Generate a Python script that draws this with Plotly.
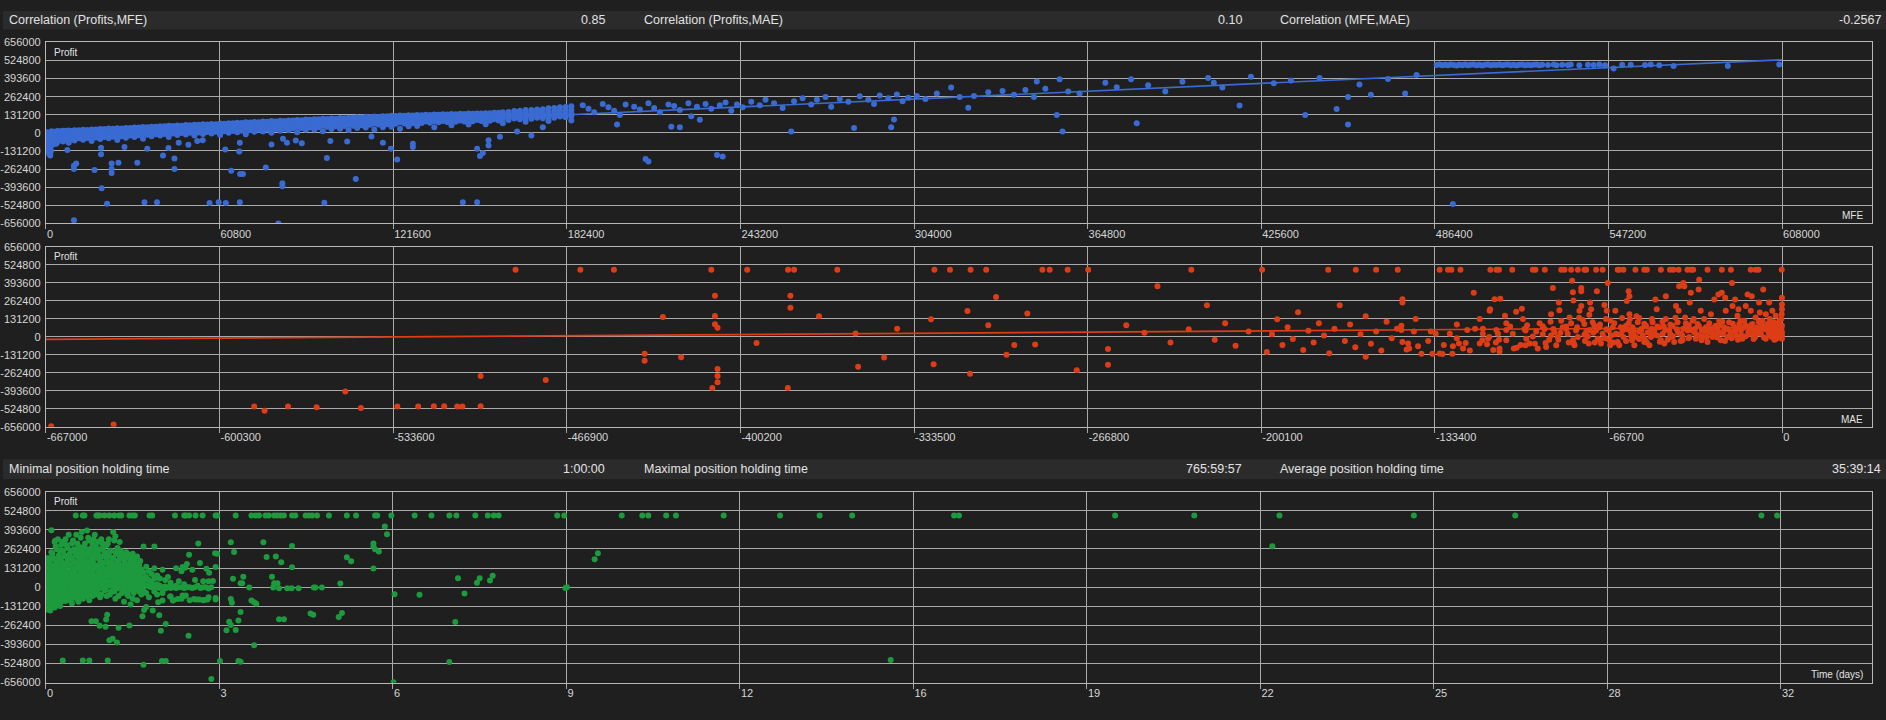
import plotly.graph_objects as go

W, H = 1886, 720

# ---------------- header texts ----------------
header1_labels = ["Correlation (Profits,MFE)", "Correlation (Profits,MAE)", "Correlation (MFE,MAE)"]
header1_values = ["0.85", "0.10", "-0.2567"]
header2_labels = ["Minimal position holding time", "Maximal position holding time", "Average position holding time"]
header2_values = ["1:00:00", "765:59:57", "35:39:14"]

# ---------------- axis ticks ----------------
profit_ticks = [656000, 524800, 393600, 262400, 131200, 0, -131200, -262400, -393600, -524800, -656000]
profit_ticktext = ["656000", "524800", "393600", "262400", "131200", "0", "-131200", "-262400", "-393600", "-524800", "-656000"]
mfe_ticks = [0, 60800, 121600, 182400, 243200, 304000, 364800, 425600, 486400, 547200, 608000]
mae_ticks = [-667000, -600300, -533600, -466900, -400200, -333500, -266800, -200100, -133400, -66700, 0]
time_ticks = [0, 3.2, 6.4, 9.6, 12.8, 16, 19.2, 22.4, 25.6, 28.8, 32]
time_ticktext = ["0", "3", "6", "9", "12", "16", "19", "22", "25", "28", "32"]

# ---------------- Panel 1: Profit vs MFE (thousands) ----------------
mfe_strip = [(0.5,-5),(0.5,-20),(0.8,-35),(0.6,-50),(0.9,-65),(0.7,-80),(1.0,-95),(0.8,-110),(1.2,-125),
             (1.0,-140),(1.2,-155),(1.5,-165),(1.5,-150),(0.4,5),(1.6,-100),(2.0,-60),(1.8,-130),(0.3,-15),(2.5,-85)]
mfe_band = [
    (2,[12,-5,-25,-48,-70]),(4,[14,-2,-20,-42,-66]),(6,[16,0,-18,-38,-62]),(8,[17,3,-15,-35,-72]),
    (10,[19,5,-12,-30,-55]),(13,[22,8,-8,-28,-50]),(16,[25,10,-5,-24,-60]),(19,[28,12,-2,-20,-45]),
    (22,[31,15,0,-18,-40]),(25,[33,18,3,-15,-52]),(28,[36,20,6,-12,-35]),(31,[39,24,8,-8,-30]),
    (34,[42,27,12,-5,-42]),(37,[45,30,14,-2,-25]),(40,[48,33,18,2,-20]),(43,[51,36,20,4,-30]),
    (46,[54,39,23,8,-15]),(49,[56,42,26,10,-12]),(52,[59,45,29,12,-20]),(55,[62,48,32,15,-8]),
    (58,[65,50,34,18,-5]),(61,[68,53,37,20,-15]),(64,[70,56,40,24,0]),(67,[73,58,43,26,5]),
    (70,[76,61,46,28,-10]),(73,[79,64,48,31,8]),(76,[82,67,51,34,10]),(79,[85,70,54,36,0]),
    (82,[88,72,57,39,15]),(85,[90,75,60,42,18]),(88,[93,78,62,44,5]),(91,[96,80,65,47,22]),
    (94,[99,83,68,50,25]),(97,[102,86,70,52,12]),(100,[104,89,73,55,28]),(103,[107,91,76,58,30]),
    (106,[110,94,78,60,20]),(109,[113,97,81,63,35]),(112,[116,100,84,66,38]),(115,[118,102,86,68,25]),
    (118,[121,105,89,71,40]),(121,[124,108,92,74,45]),(124,[126,110,94,76,30]),(127,[128,112,96,78,48]),
    (130,[130,114,98,80,50]),(133,[131,116,100,82]),(136,[133,118,102,84,40]),(139,[135,120,104,86]),
    (142,[136,122,106,88,55]),(145,[138,124,108,90]),(148,[140,126,110,92,60]),(151,[141,128,112,94]),
    (154,[143,130,114,96,62]),(157,[145,132,116,98]),(160,[150,134,118,100,70]),(164,[158,140,122,104]),
    (168,[165,145,126,108,80]),(172,[170,150,130,110]),(176,[178,155,134,114,85]),(180,[185,160,138,118]),
    (184,[192,165,142,122,90]),
]
mfe_band_b = [
    (3,[8,-12,-35,-58]),(5,[12,-8,-30,-52]),(7,[15,-6,-28,-50]),(9,[13,-4,-22,-45]),(11.5,[18,0,-20,-40]),
    (14.5,[21,3,-18,-38]),(17.5,[24,6,-14,-34]),(20.5,[27,8,-10,-30]),(23.5,[30,12,-8,-28]),(26.5,[32,14,-4,-24]),
    (29.5,[35,17,0,-20]),(32.5,[38,20,2,-18]),(35.5,[41,23,5,-14]),(38.5,[44,26,8,-10]),(41.5,[47,29,11,-8]),
    (44.5,[50,32,14,-5]),(47.5,[52,34,16,-2]),(50.5,[55,37,19,0]),(53.5,[58,40,22,3]),(56.5,[61,43,25,6]),
    (59.5,[63,45,27,8]),(62.5,[66,48,30,11]),(65.5,[69,51,33,14]),(68.5,[72,54,36,16]),(71.5,[75,57,39,19]),
    (74.5,[77,59,41,22]),(77.5,[80,62,44,25]),(80.5,[83,65,47,28]),(83.5,[86,68,50,30]),(86.5,[89,71,53,33]),
    (89.5,[92,74,56,36]),(92.5,[95,77,59,38]),(95.5,[98,80,62,41]),(98.5,[100,82,64,44]),(101.5,[103,85,67,47]),
    (104.5,[106,88,70,50]),(107.5,[109,91,73,52]),(110.5,[112,94,76,55]),(113.5,[115,97,79,58]),
    (116.5,[117,99,81,60]),(119.5,[120,102,84,63]),(122.5,[122,104,86,66]),(125.5,[124,106,88,68]),
    (128.5,[126,108,90,70]),(131.5,[127,110,92,72]),(134.5,[129,112,94,74]),(137.5,[131,114,96,76]),
    (140.5,[133,116,98,78]),(143.5,[134,118,100,80]),(146.5,[136,120,102,82]),(149.5,[138,122,104,84]),
    (152.5,[140,124,106,86]),(155.5,[142,126,108,88]),(158.5,[146,128,110,90]),(162,[152,132,114,94]),
    (166,[160,138,118,98]),(170,[166,144,122,102]),(174,[172,148,126,106]),(178,[180,152,130,110]),
    (182,[188,158,134,114]),
]
mfe_mid = [(188,200),(190,175),(192,150),(195,210),(197,185),(199,160),(201,130),(203,205),(206,190),(208,170),
           (211,215),(213,180),(215,150),(218,205),(220,195),(222,165),(225,215),(226,120),(228,190),(231,210),
           (233,175),(236,200),(238,220),(240,160),(242,205),(244,185),(247,225),(250,200),(252,240),(255,215),
           (258,180),(262,230),(265,250),(268,205),(270,240),(273,260),(275,190),(278,245),(281,225),(285,265),
           (288,240),(290,210),(292,270),(295,250),(298,278),(300,230),(302,255),(305,268),(308,245),(312,285),
           (317,329),(320,260),(323,182),(325,268),(330,295),(335,303),(339,277),(343,310),(346,260),(350,320),
           (354,130),(358,300),(362,285),(347,372),(355,389),(371,363),(375,330),(380,389),(386,345),(392,300),
           (398,370),(407,398),(409,363),(412,329),(418,199),(422,406),(430,360),(436,380),(446,397),(452,173),
           (456,260),(460,350),(464,277),(470,390),(476,285),(480,420)]
mfe_outliers = [(3.6,-79),(7.5,-124),(9.8,-633),(9.8,-239),(9.8,-263),(10.6,-222),(17,-270),(19.5,-401),
                (21.4,-514),(19.3,-155),(19.3,-108),(23,-222),(23,-263),(23,-292),(25.4,-217),(32,-217),
                (27.5,-103),(34.5,-504),(38.9,-504),(35.5,-115),(41,-165),(42.9,-110),(45,-186),(45,-263),
                (46.5,-72),(49.9,-86),(53,-60),(54.9,-53),(57.3,-509),(60.5,-504),(63,-509),(62.8,-120),
                (64.9,-275),(67.7,-136),(67.9,-72),(67.9,-504),(68,-299),(69,-299),(77,-251),(79,-84),
                (81.4,-657),(82.8,-366),(82.8,-387),(83,-43),(84.4,-72),(87.5,-55),(89.6,-76),(97.5,-507),
                (98.4,-182),(99.6,-60),(108.5,-335),(105.5,-62),(114,-26),(118,-72),(120.8,-115),(123,-194),
                (128.5,-79),(128.5,-103),(146,-504),(151,-504),(151,-115),(152,-167),(155,-53),(155,-91),
                (159,-29),(153,-147),(165,10),(170,-20),(174,40),(211,-207),(210,-190),(219,44),(222,40),
                (237,-172),(235,-160),(229,95),(200,60),(261,9),(283,35),(297,96),(296,40),(356,9.5),
                (382,70),(441,130),(456,61),(492.7,-516)]
mfe_cap = [(487,492),(488,495),(489,490),(490,494),(491,491),(492,496),(493,492),(494,489),(495,494),(496,491),
           (497,495),(498,490),(499,493),(500,496),(501,491),(502,494),(503,489),(504,493),(505,496),(506,490),
           (507,494),(508,492),(509,495),(510,490),(511,493),(512,496),(513,491),(514,494),(515,489),(516,493),
           (517,496),(518,491),(519,494),(520,490),(521,493),(522,495),(523,491),(524,494),(526,492),(528,495),
           (529,490),(531,493),(533,492),(534,495),(537,491),(540,494),(542,492),(544,495),(546,490),(549,466),
           (552,494),(555,493),(560,492),(562,495),(565,491),(570,484),(589,484),(607,495)]
mfe_trend_x = [0, 608000]
mfe_trend_y = [-40000, 530000]

# ---------------- Panel 2: Profit vs MAE (thousands) ----------------
mae_left = [(-665,-652),(-641,-639),(-587,-508),(-583,-539),(-574,-508),(-563,-513),(-546,-518),(-532,-508),
            (-524,-508),(-518,-505),(-514,-505),(-509,-508),(-507,-507),(-500,-505),(-552,-398),(-500,-286),
            (-475,-314)]
mae_cap = [-486.6,-461.7,-448.8,-411.4,-397.6,-381.9,-379.6,-363,-325.7,-319.7,-311.8,-305.8,-284.2,-281.4,
           -274.5,-266.6,-227,-199.8,-174.4,-163.8,-156,-147.7,-131.6,-128.4,-127.1,-123.6,-112.1,-109.8,
           -108.8,-103.7,-95.8,-94.8,-91.2,-84.9,-83.6,-81.1,-78.5,-76,-75.3,-71.5,-69,-63.2,-62.6,-61,
           -56.4,-53,-52,-46.6,-43.1,-41.8,-39.8,-36.4,-35.1,-34.2,-28.7,-23.2,-19.7,-12.1,-10.2,-9.1,-0.2]
mae_cap_profit = 490
mae_mid = [(-410,300),(-410,153),(-410,93),(-409,67),(-409,-234),(-409,-286),(-409,-330),(-411,-373),
           (-430,145),(-437,-122),(-437,-174),(-423,-148),(-394,-45),(-381,300),(-381,213),(-382,-373),
           (-370,150),(-356,24),(-355,-217),(-345,-150),(-340,60),(-327,128),(-326,-200),(-313,188),
           (-312,-269),(-305,84),(-302,290),(-298,-131),(-295,-60),(-290,171),(-287,-55),(-271,-243),
           (-259,-203),(-259,-88),(-252,84),(-245,30),(-240,369),(-235,-40),(-228,55),(-221,231),(-218,-20),
           (-214,100),(-210,-65),(-205,40),(-198,-110),(-196,20),(-194,128),(-192,-60),(-190,70),(-188,-15),
           (-186,180),(-184,-95),(-182,45),(-180,-40),(-178,100),(-176,10),(-174,-120),(-172,60),(-170,230),
           (-168,-30),(-166,90),(-164,-75),(-162,20),(-160,150),(-158,-50),(-156,40),(-154,-100),(-152,110),
           (-150,-10),(-148,60),(-160,-145)]
mae_dense = [(-145.9,274),(-145.9,250),(-146.3,82),(-146.3,51),(-145.9,-37),(-143.7,-49),(-144.3,-92),(-143.3,-85),
             (-139.9,-68),(-140.8,130),(-138.6,-122),(-134.4,-122),(-131.6,-121),(-130.5,-124),(-126.7,-122),
             (-133.1,23),(-127.7,23),(-126.5,-68),(-124.2,-49),(-122.6,-85),(-121.6,-44),(-121,51),(-118.5,321),
             (-116.2,130),(-116.2,-49),(-115.2,-25),(-115,23),(-113.4,-54),(-113,-14),(-112.6,-1),(-112.4,190),
             (-112.2,202),(-110.5,274),(-108.3,278),(-109.8,51),(-109.2,23),(-108.8,-20),(-108.6,-85),(-108.6,-106),
             (-106.5,154),(-106,51),(-106,-25),(-103.5,23),(-103.1,-85),(-102.2,183),(-100,206),(-99.6,130),
             (-99,58),(-98.6,46),(-98.6,-61),(-98.3,-13),(-97,-49),(-95.8,3.5),(-93.9,-85),(-93.2,99),(-92,78),
             (-91.3,58),(-90.9,-44),(-90.7,-73),(-88.8,11),(-88.8,166),(-88.1,357),(-87.9,58),(-87.5,34),
             (-86.8,-61),(-86.2,-1),(-85.6,195),(-85.8,250),(-84.9,118),(-84.3,70),(-83,58),(-82.4,23),(-81.7,142),
             (-81.1,99),(-80.4,-25),(-79.8,-61),(-80.7,410),(-80.4,326),(-80.2,266),(-79.2,46),(-78.5,-1),
             (-77.9,190),(-77.2,226),(-77.2,357),(-77.2,333),(-76.6,123),(-76,94),(-75.3,35),(-74.7,3.5),
             (-74.3,-49),(-73.8,250),(-73.4,202),(-74.1,161),(-72.8,106),(-72.2,82),(-71.2,333),(-71.5,46),
             (-70.9,-13),(-70.2,70),(-69.6,-49),(-69,23),(-68.3,233),(-67.7,130),(-67.4,190),(-67,393),(-66.6,46),
             (-66.4,-25),(-66.1,-61),(-65.7,11),(-65.1,70),(-64.5,99),(-64.1,190),(-63.8,23),(-63.2,-37),
             (-62.6,-61),(-61.5,137),(-61.3,46),(-61,-1),(-60,82),(-59.7,261),(-59,333),(-58.7,297),(-58.7,166),
             (-58.5,130),(-58.1,34),(-57.7,-25),(-57.5,70),(-56.8,-61),(-56.2,-1),(-55.5,106),(-54.9,137),
             (-54.2,46),(-53.6,11),(-53,-37),(-52.3,82),(-51.7,34),(-51,-61),(-50.4,-1),(-49.8,106),(-49.1,46),
             (-48.7,273),(-48.2,202),(-47.2,70),(-46.6,-25),(-45.9,23),(-45.3,-49),(-44.7,130),(-44.7,297),
             (-43.4,46),(-42.8,-1),(-42.1,82),(-41.5,-37),(-40.8,226),(-40.2,106),(-39.8,190),(-39.6,369),
             (-38.9,23),(-38.3,-25),(-38,393),(-37.6,369),(-37.3,142),(-37,70),(-36.4,46),(-35.7,-1),(-35.5,250),
             (-35.1,321),(-34.4,118),(-33.8,34),(-33.2,-13),(-32.5,94),(-32.1,345),(-31.9,417),(-31.3,190),
             (-30.9,46),(-30.4,-1),(-30,130),(-29.3,70),(-28.7,-37),(-28,34),(-27.4,166),(-26.8,-1),(-26.1,273),
             (-25.5,82),(-24.8,46),(-24.5,309),(-24.2,118),(-23.6,-25),(-23.2,321),(-22.9,23),(-22.3,70),
             (-21.9,285),(-21.7,190),(-21,-1),(-20.4,106),(-19.7,34),(-19.3,393),(-19.1,226),(-18.5,70),
             (-18.1,273),(-17.8,11),(-17.2,154),(-16.8,202),(-16.5,94),(-15.9,46),(-15.3,-13),(-14.6,118),
             (-14,226),(-13.3,309),(-13,70),(-12.7,23),(-12.1,190),(-11.7,297),(-11.4,94),(-10.8,46),(-10.4,-1),
             (-10.2,142),(-9.5,70),(-8.9,250),(-8.6,178),(-8.2,23),(-7.6,118),(-7.3,345),(-6.9,58),(-6.3,-13),
             (-6.3,166),(-5.7,94),(-5.3,34),(-5,250),(-4.8,130),(-4.4,70),(-4,-1),(-3.8,190),(-3.5,46),(-3.1,106),
             (-2.8,23),(-2.5,154),(-2.3,-13),(-1.9,70),(-1.5,94),(-1.2,46),(-1,118),(-0.6,23),(-0.2,166),
             (-0.1,82),(-0.1,285),(-0.1,237),(-0.1,202),(-0.1,34),(-0.1,11),(-0.1,-13),(-0.3,60),(-0.4,130),
             (-1.4,10),(-2.1,30),(-3.3,80),(-4.6,15),(-6.1,60),(-7.8,85),(-9.2,40),(-11,10),(-12.4,55),
             (-14.2,85),(-15.8,15),(-17.5,60),(-19.4,-10),(-20.8,55),(-22.5,40),(-24,85),(-25.8,15),(-27.6,60),
             (-29.6,40),(-31.5,10),(-33.5,60),(-35.9,85),(-38.4,10),(-40.5,55),(-43,20),(-45.5,75),(-48,10),
             (-50.2,60),(-52.8,-15),(-55,40),(-57.2,10),(-59.5,55),(-62,20),(-64.8,-40),(-67.5,55),(-70,-20),
             (-72.6,30),(-75.8,-30),(-78.8,70),(-82,-40),(-85.2,30),(-89.5,-20),(-94.5,40),(-100.5,-60),
             (-104.5,75),(-111,-95),(-118,60),(-125,-10),(-136,-30),(-141.5,40)]
mae_dense_b = [(-1,5),(-2,40),(-3,-20),(-4,100),(-5,15),(-6,75),(-7,-5),(-8,55),(-9,110),(-10,25),(-11,-15),
               (-12,85),(-13,35),(-14,5),(-15,65),(-16,120),(-17,-20),(-18,45),(-19,95),(-20,15),(-21,60),
               (-22,-30),(-23,110),(-24,30),(-25,-5),(-26,70),(-27,40),(-28,100),(-29,0),(-30,55),(-31,-25),
               (-32,80),(-33,20),(-34,130),(-35,50),(-36,-10),(-37,100),(-38,60),(-39,-30),(-40,30),(-41,140),
               (-42,5),(-43,90),(-44,-20),(-45,50),(-46,110),(-47,-35),(-48,75),(-49,15),(-50,130),(-51,30),
               (-52,-40),(-53,95),(-54,60),(-55,-15),(-56,150),(-57,40),(-58,5),(-59,100),(-60,-30),(-62,70),
               (-64,20),(-66,120),(-68,-10),(-70,90),(-72,-40),(-74,50),(-76,15),(-78,140),(-80,-50),(-83,75),
               (-86,-20),(-89,110),(-92,20),(-95,-50),(-98,85),(-102,-80),(-106,100),(-110,-40),(-115,60),
               (-120,-100),(-125,90),(-130,-60),(-135,40)]
mae_trend_x = [-667000, 0]
mae_trend_y = [-18000, 70000]

# ---------------- Panel 3: Profit vs holding time (days, thousands) ----------------
time_strip = [(0.04,[200,180,160,140,120,100,80,60,40,20,0,-20,-40,-60,-80,-100,-120,-140,-155]),
              (0.08,[190,150,110,70,30,-10,-50,-90,-130,-160])]
time_cluster = [
    (0.12,[230,150,90,40,-10,-60,-110]),(0.16,[310,190,120,60,10,-40,-90,-140]),
    (0.20,[260,170,100,30,-20,-70,-120]),(0.24,[220,140,80,20,-30,-80]),
    (0.28,[290,200,130,60,0,-50,-100]),(0.32,[250,160,100,40,-15,-65]),
    (0.36,[330,210,140,70,10,-40,-95]),(0.40,[270,180,110,50,-5,-60]),
    (0.44,[230,150,90,30,-25,-75]),(0.48,[300,200,130,65,5,-45,-110]),
    (0.52,[260,170,100,40,-20,-70]),(0.56,[360,220,140,80,15,-35]),
    (0.60,[280,190,120,55,-5,-60,-100]),(0.64,[340,230,150,90,25,-30]),
    (0.68,[250,170,100,40,-20,-80]),(0.72,[300,210,130,70,10,-45]),
    (0.76,[390,260,180,110,50,-10]),(0.80,[320,220,150,80,20,-40,-90]),
    (0.84,[270,190,120,60,0]),(0.88,[330,240,160,90,30,-30]),
    (0.92,[280,200,130,70,10,-50]),(0.96,[310,230,150,85,25,-15]),
    (1.00,[260,180,110,50,-5,-70]),(1.04,[300,210,140,75,15]),
    (1.08,[240,170,100,40,-20]),(1.12,[290,200,120,60,5,-60]),
    (1.16,[330,220,150,80,20]),(1.20,[250,170,100,40,-30]),
    (1.24,[380,200,130,60,0]),(1.28,[350,240,160,90,30,-80]),
    (1.32,[270,180,110,50,-10]),(1.36,[310,210,140,70,10]),
    (1.40,[230,150,80,20,-40]),(1.44,[190,120,60,0,-100]),
    (1.48,[240,160,90,30,-30]),(1.52,[200,130,70,10,-60]),
    (1.56,[170,100,40,-20,-120]),(1.60,[230,140,80,20,-80]),
    (1.64,[180,110,50,-10]),(1.68,[210,130,60,0,-90]),
    (1.72,[150,90,30,-30]),(1.76,[120,60,10,-50]),
    (1.80,[280,100,40,-20]),(1.85,[140,70,15,-40]),
    (1.90,[110,50,5,-70]),(1.95,[90,30,0]),
    (2.00,[280,130,60,10,-30]),(2.05,[80,20,0,-50]),
    (2.10,[60,10,-5]),(2.15,[120,0,-40]),(2.20,[50,5,-10]),(2.25,[70,0]),
    (2.30,[30,-5,-65]),(2.35,[0,-90]),(2.40,[130,10,-5]),(2.45,[40,0]),
    (2.50,[110,0,-80]),(2.55,[20,-5,-60]),(2.60,[160,0]),(2.65,[0,-90]),
    (2.70,[120,-5]),(2.75,[50,0,-85]),(2.80,[10,-85]),(2.85,[-5]),
    (2.90,[0,40,-90]),(2.95,[0]),(3.00,[-10,-70,40]),(3.05,[0]),
]
time_cluster_b = [
    (0.06,[170,90,10,-70,-145]),(0.10,[240,120,50,-30,-100]),(0.14,[200,110,20,-80]),(0.18,[280,150,80,-5,-110]),
    (0.22,[330,190,60,-45]),(0.26,[250,120,40,-60,-130]),(0.30,[310,170,90,-30]),(0.34,[220,130,20,-90]),
    (0.38,[290,160,80,-20]),(0.42,[360,200,60,-50]),(0.46,[250,110,30,-95]),(0.50,[320,180,90,-30]),
    (0.54,[240,120,50,-55]),(0.58,[300,160,20,-85]),(0.62,[260,140,70,-40]),(0.66,[380,200,110,0]),
    (0.70,[280,150,60,-60]),(0.74,[230,120,30,-30]),(0.78,[340,170,80,-70]),(0.82,[250,130,40,-20]),
    (0.86,[300,180,100,-60]),(0.90,[360,220,50,-10]),(0.94,[260,140,60,-40]),(0.98,[200,110,30]),
    (1.02,[330,160,90,-50]),(1.06,[270,130,20]),(1.10,[220,90,40,-20]),(1.14,[300,170,80]),
    (1.18,[250,120,30,-50]),(1.22,[200,90,10]),(1.26,[320,150,60,-30]),(1.30,[230,120,20]),
    (1.34,[180,90,40,-60]),(1.38,[250,130,30]),(1.42,[210,100,-20]),(1.46,[160,60,10]),
    (1.50,[230,110,40,-50]),(1.54,[140,70,0]),(1.58,[200,90,30]),(1.62,[120,50,-40]),
    (1.66,[160,70,20]),(1.70,[110,40,-10]),(1.74,[180,80,0]),
]
time_cap = [0.55,0.68,0.71,0.93,0.96,0.99,1.08,1.17,1.26,1.35,1.39,1.54,1.60,1.64,1.91,1.96,2.38,2.55,
            2.58,2.64,2.76,2.89,3.13,3.16,3.50,3.79,3.87,3.93,4.05,4.11,4.21,4.27,4.33,4.39,4.54,4.60,4.79,
            4.85,4.91,5.00,5.22,5.55,5.72,6.07,6.11,6.37,6.80,7.11,7.44,7.57,7.92,8.15,8.26,8.35,9.43,9.56,
            10.62,11.0,11.11,11.44,11.62,12.5,13.54,14.27,14.87,16.75,16.84,19.72,21.18,22.75,25.23,27.1,
            31.64,31.93]
time_cap_profit = 492
time_other = [(0.10,391),(0.17,319),(0.31,-504),(0.68,-504),(0.80,-504),(1.14,-504),(1.80,-533),(2.14,-508),
              (2.21,-508),(3.05,-632),(3.21,-508),(3.55,-508),(3.59,-513),(2.63,-335),(3.84,-400),(1.17,-366),
              (1.23,-355),(1.31,-380),(1.34,-279),(1.54,-263),(0.84,-234),(0.92,-234),(0.99,-265),(1.10,-272),
              (1.13,-189),(1.11,-222),(2.12,-299),(2.21,-254),(2.09,-193),(1.78,-200),(1.81,-157),(1.85,-137),
              (1.97,-160),(2.07,-103),(2.15,-92),(2.29,-65),(2.34,-92),(2.43,-81),(2.52,-58),(2.58,-58),
              (2.73,-81),(2.83,-85),(2.92,-88),(2.98,-85),(3.13,-74),(3.13,-85),(3.33,-297),(3.50,-294),
              (3.38,-238),(3.41,-261),(3.55,-229),(3.59,-171),(3.41,-81),(3.43,-108),(3.79,-92),(3.84,-103),
              (3.88,-115),(4.30,-220),(4.39,-220),(4.88,-182),(4.93,-189),(5.40,-205),(5.46,-178),(6.43,-49),
              (6.41,-654),(2.81,301),(2.64,223),(2.84,166),(2.52,139),(2.57,133),(2.96,126),(3.01,99),(3.13,139),
              (3.12,234),(3.16,229),(3.08,43),(3.41,308),(3.47,241),(3.45,58),(3.64,72),(3.59,27),(3.62,27),
              (3.75,-2),(4.01,308),(4.07,207),(4.24,211),(4.34,171),(4.17,72),(4.21,27),(4.27,27),(4.19,-2),
              (4.30,-7),(4.54,283),(4.54,137),(4.45,-7),(4.53,-7),(4.66,-7),(4.94,-2),(4.97,-2),(5.09,-2),
              (5.43,25),(5.55,205),(5.63,178),(6.04,301),(6.04,279),(6.07,261),(6.04,128),(6.14,245),(6.25,418),
              (6.29,364),(6.89,-52),(7.55,-239),(7.44,-514),(7.60,62),(7.72,-44),(7.95,30),(8.00,62),(8.19,46),
              (8.24,78),(9.61,0),(9.58,-5),(10.12,192),(10.18,233),(15.58,-501),(22.62,281)]

# ---------------- build flat series ----------------
K = 1000.0
def flat_cols(cols):
    xs, ys = [], []
    for x, yl in cols:
        for y in yl:
            xs.append(x); ys.append(y)
    return xs, ys

p1 = mfe_strip + mfe_mid + mfe_outliers + mfe_cap
bx, by = flat_cols(mfe_band + mfe_band_b)
mfe_x = [p[0] * K for p in p1] + [v * K for v in bx]
mfe_y = [p[1] * K for p in p1] + [v * K for v in by]

p2 = mae_left + mae_mid + mae_dense + mae_dense_b
mae_x = [p[0] * K for p in p2] + [v * K for v in mae_cap]
mae_y = [p[1] * K for p in p2] + [mae_cap_profit * K for _ in mae_cap]

sx, sy = flat_cols(time_strip)
cx, cy = flat_cols(time_cluster + time_cluster_b)
time_x = sx + cx + [p[0] for p in time_other] + time_cap
time_y = [v * K for v in sy + cy] + [p[1] * K for p in time_other] + [time_cap_profit * K for _ in time_cap]

# ---------------- styling ----------------
BG = "#1f1f1f"
BAND = "#2b2b2b"
GRID = "#a9a9a9"
FRAME = "#b8b8b8"
TXT = "#e2e2e2"
TICK = "#d6d6d6"
BLUE = "#3a6bd2"
RED = "#dd3d16"
GREEN = "#1d9a3d"
FONT = "Liberation Sans"

fig = go.Figure()
mk = dict(size=6, line=dict(width=0))
fig.add_trace(go.Scatter(x=mfe_x, y=mfe_y, mode="markers", marker=dict(color=BLUE, **mk), xaxis="x", yaxis="y", hoverinfo="skip"))
fig.add_trace(go.Scatter(x=mfe_trend_x, y=mfe_trend_y, mode="lines", line=dict(color=BLUE, width=1.6), xaxis="x", yaxis="y", hoverinfo="skip"))
fig.add_trace(go.Scatter(x=mae_x, y=mae_y, mode="markers", marker=dict(color=RED, **mk), xaxis="x2", yaxis="y2", hoverinfo="skip"))
fig.add_trace(go.Scatter(x=mae_trend_x, y=mae_trend_y, mode="lines", line=dict(color=RED, width=1.6), xaxis="x2", yaxis="y2", hoverinfo="skip"))
fig.add_trace(go.Scatter(x=time_x, y=time_y, mode="markers", marker=dict(color=GREEN, **mk), xaxis="x3", yaxis="y3", hoverinfo="skip"))

def ydom(top, bottom):
    return [1 - bottom / H, 1 - top / H]

xdom = [43 / W, 1872 / W]

def xax(rng, vals, text, anchor):
    return dict(domain=xdom, range=rng, tickvals=vals, ticktext=text, anchor=anchor,
                ticks="outside", ticklen=5, tickcolor=GRID, ticklabelposition="outside right",
                showgrid=True, gridcolor=GRID, gridwidth=1, zeroline=False,
                showline=True, mirror=True, linecolor=FRAME, linewidth=1,
                tickfont=dict(family=FONT, size=11, color=TICK), fixedrange=True)

def yax(dom, anchor):
    return dict(domain=dom, range=[-656000, 656000], tickvals=profit_ticks, ticktext=profit_ticktext,
                anchor=anchor, ticks="", showgrid=True, gridcolor=GRID, gridwidth=1, zeroline=False,
                showline=True, mirror=True, linecolor=FRAME, linewidth=1, ticklabelstandoff=2,
                tickfont=dict(family=FONT, size=11, color=TICK), fixedrange=True)

mfe_range = [0, 639500]
mae_range = [-667000, 34500]
time_range = [0, 33.68]

fig.update_layout(
    width=W, height=H, margin=dict(l=0, r=0, t=0, b=0),
    paper_bgcolor=BG, plot_bgcolor=BG, showlegend=False,
    font=dict(family=FONT, color=TXT),
    xaxis=xax(mfe_range, mfe_ticks, [str(v) for v in mfe_ticks], "y"),
    yaxis=yax(ydom(37, 221), "x"),
    xaxis2=xax(mae_range, mae_ticks, [str(v) for v in mae_ticks], "y2"),
    yaxis2=yax(ydom(245, 428), "x2"),
    xaxis3=xax(time_range, time_ticks, time_ticktext, "y3"),
    yaxis3=yax(ydom(494, 688), "x3"),
)

# header bands
for top, bot in [(5, 24), (461, 481)]:
    fig.add_shape(type="rect", xref="paper", yref="paper", x0=0, x1=1, y0=1 - bot / H, y1=1 - top / H,
                  fillcolor=BAND, line=dict(width=0), layer="below")

ann = []
label_x = [4, 640, 1277]
value_x = [605, 1243, 1883]
for row_y, labels, values in [(14.5, header1_labels, header1_values), (471, header2_labels, header2_values)]:
    for i in range(3):
        ann.append(dict(x=label_x[i] / W, y=1 - row_y / H, xref="paper", yref="paper", text=labels[i],
                        showarrow=False, xanchor="left", yanchor="middle",
                        font=dict(family=FONT, size=12.5, color=TXT)))
        ann.append(dict(x=value_x[i] / W, y=1 - row_y / H, xref="paper", yref="paper", text=values[i],
                        showarrow=False, xanchor="right", yanchor="middle",
                        font=dict(family=FONT, size=12.5, color=TXT)))

for top, bottom, name in [(37, 221, "MFE"), (245, 428, "MAE"), (494, 688, "Time (days)")]:
    ann.append(dict(x=49 / W, y=1 - (top + 10) / H, xref="paper", yref="paper", text="Profit",
                    showarrow=False, xanchor="left", yanchor="middle",
                    font=dict(family=FONT, size=10, color=TXT)))
    ann.append(dict(x=1865 / W, y=1 - (bottom - 8) / H, xref="paper", yref="paper", text=name,
                    showarrow=False, xanchor="right", yanchor="middle",
                    font=dict(family=FONT, size=10, color=TXT)))

fig.update_layout(annotations=ann)

fig.write_html("out.html", config={"displayModeBar": False},
               post_script="document.body.style.margin='0';")
